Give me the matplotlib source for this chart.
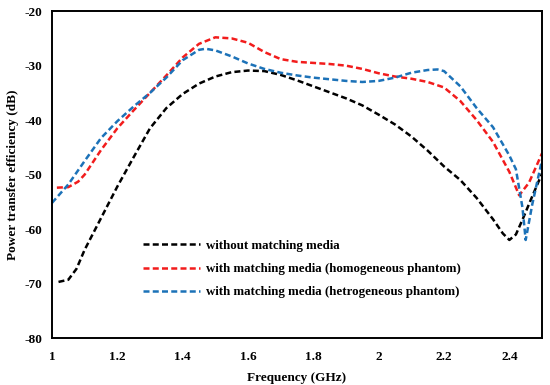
import matplotlib
matplotlib.use("Agg")
import matplotlib.pyplot as plt

plt.rcParams['font.family'] = ['Liberation Serif', 'DejaVu Serif']
plt.rcParams['font.weight'] = 'bold'
plt.rcParams['axes.unicode_minus'] = False

# without matching media
f_black = [1.02, 1.05, 1.075, 1.1, 1.15, 1.2, 1.25, 1.3, 1.35, 1.4, 1.45, 1.5, 1.55, 1.6,
           1.65, 1.7, 1.75, 1.8, 1.85, 1.9, 1.95, 2.0, 2.05, 2.1, 2.15, 2.2, 2.25, 2.3,
           2.35, 2.38, 2.4, 2.42, 2.44, 2.47, 2.5]
v_black = [-69.7, -69.3, -67.3, -63.8, -58.0, -52.2, -46.8, -41.5, -37.8, -35.2, -33.3, -32.0,
           -31.2, -30.9, -31.0, -31.7, -32.7, -33.8, -34.9, -36.0, -37.3, -39.0, -40.8, -43.0,
           -45.6, -48.5, -51.0, -54.3, -58.2, -60.8, -62.0, -61.0, -58.3, -54.0, -49.8]

# with matching media (homogeneous phantom)
f_red = [1.015, 1.05, 1.08, 1.1, 1.15, 1.2, 1.25, 1.3, 1.35, 1.4, 1.45, 1.5, 1.55, 1.6, 1.65,
         1.7, 1.75, 1.8, 1.85, 1.9, 1.95, 2.0, 2.05, 2.1, 2.15, 2.2, 2.25, 2.3, 2.35, 2.4,
         2.43, 2.46, 2.5]
v_red = [-52.4, -52.3, -51.3, -50.0, -45.5, -41.5, -38.2, -35.0, -31.8, -28.5, -26.0, -24.8,
         -25.0, -25.8, -27.5, -28.8, -29.3, -29.5, -29.7, -30.0, -30.6, -31.4, -32.0, -32.4,
         -33.0, -34.0, -36.5, -40.0, -44.0, -49.5, -53.8, -51.5, -46.1]

# with matching media (hetrogeneous phantom)
f_blue = [1.0, 1.05, 1.1, 1.15, 1.2, 1.25, 1.3, 1.35, 1.4, 1.45, 1.47, 1.5, 1.55, 1.6, 1.65,
          1.7, 1.75, 1.8, 1.85, 1.9, 1.95, 2.0, 2.05, 2.1, 2.15, 2.18, 2.2, 2.25, 2.3, 2.35,
          2.4, 2.42, 2.44, 2.45, 2.47, 2.5]
v_blue = [-55.2, -51.8, -47.5, -43.3, -40.2, -37.5, -35.0, -32.2, -29.0, -27.1, -26.9, -27.2,
          -28.3, -29.6, -30.6, -31.3, -31.8, -32.2, -32.5, -32.8, -33.0, -32.8, -32.2, -31.3,
          -30.8, -30.7, -31.0, -33.8, -37.8, -41.3, -46.5, -49.0, -56.0, -62.0, -55.5, -47.3]

labels = ["without matching media",
          "with matching media (homogeneous phantom)",
          "with matching media (hetrogeneous phantom)"]
xticks = [1, 1.2, 1.4, 1.6, 1.8, 2, 2.2, 2.4]
xticklabels = ["1", "1.2", "1.4", "1.6", "1.8", "2", "2.2", "2.4"]
yticks = [-80, -70, -60, -50, -40, -30, -20]

fig = plt.figure(figsize=(5.5, 3.85), dpi=100)
ax = fig.add_axes([0.0945, 0.122, 0.891, 0.849])

ls = (0, (2.4, 1.3))
ax.plot(f_black, v_black, color='black', lw=1.8, linestyle=ls, label=labels[0])
ax.plot(f_red, v_red, color='#F21C1C', lw=1.8, linestyle=ls, label=labels[1])
ax.plot(f_blue, v_blue, color='#1C72B8', lw=1.8, linestyle=ls, label=labels[2])

ax.set_xlim(1, 2.5)
ax.set_ylim(-80, -20)
ax.set_xticks(xticks)
ax.set_xticklabels(xticklabels)
ax.set_yticks(yticks)
ax.tick_params(length=0, labelsize=9.5)
ax.tick_params(axis='x', pad=9)
ax.tick_params(axis='y', pad=7)
for lab in ax.get_xticklabels() + ax.get_yticklabels():
    lab.set_fontweight('bold')
for s in ax.spines.values():
    s.set_linewidth(1.4)
    s.set_color('black')

ax.set_xlabel("Frequency (GHz)", fontsize=9.5, fontweight='bold', labelpad=7)
ax.set_ylabel("Power transfer efficiency (dB)", fontsize=9.5, fontweight='bold', labelpad=4)

leg = ax.legend(loc='upper left', bbox_to_anchor=(0.186, 0.30), frameon=False,
                fontsize=9.3, handlelength=4.4, handletextpad=0.45, labelspacing=0.85,
                borderpad=0, borderaxespad=0)
for t in leg.get_texts():
    t.set_fontweight('bold')

fig.savefig("out.png", dpi=100)
